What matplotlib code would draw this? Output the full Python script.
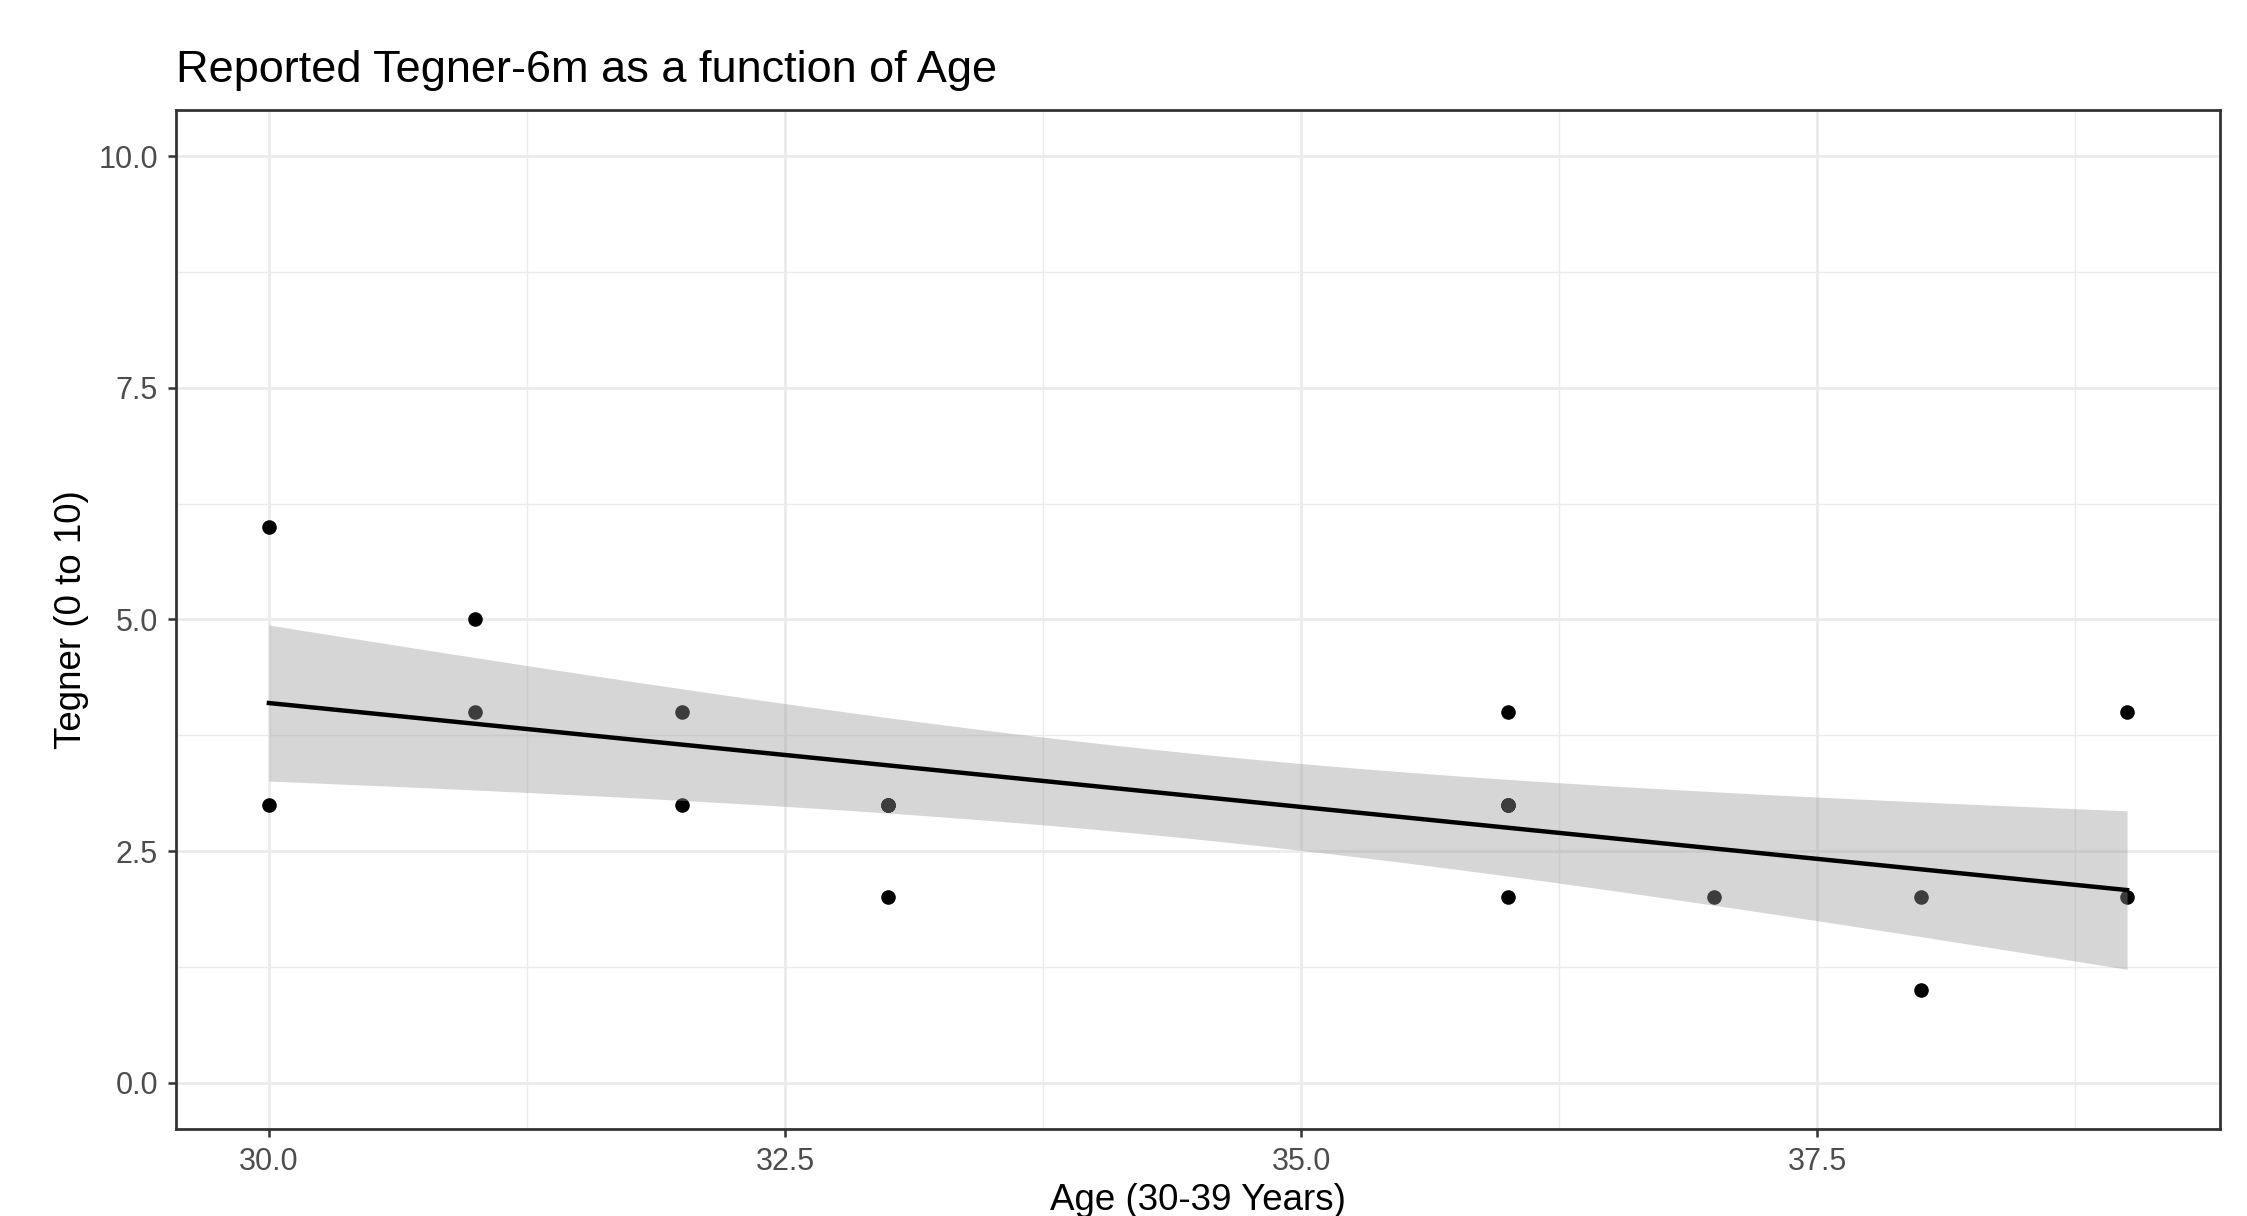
import numpy as np
import matplotlib
matplotlib.use("Agg")
import matplotlib.pyplot as plt
from matplotlib.ticker import MultipleLocator

plt.rcParams['font.family'] = ['Liberation Sans', 'DejaVu Sans']

# data (some points are stacked on top of each other)
age = [30, 30, 31, 31, 32, 32, 33, 33, 33, 33, 36, 36, 36, 36, 36, 37, 38, 38, 39, 39]
tegner = [6, 3, 5, 4, 4, 3, 3, 3, 3, 2, 4, 3, 3, 3, 2, 2, 2, 1, 4, 2]
title = "Reported Tegner-6m as a function of Age"
xlabel = "Age (30-39 Years)"
ylabel = "Tegner (0 to 10)"

x = np.array(age, dtype=float)
y = np.array(tegner, dtype=float)

# linear fit + 95% confidence band (like geom_smooth(method="lm"))
n = len(x)
slope, intercept = np.polyfit(x, y, 1)
resid = y - (slope * x + intercept)
s = np.sqrt(np.sum(resid ** 2) / (n - 2))
sxx = np.sum((x - x.mean()) ** 2)
t_crit = 2.101  # t(0.975, df=18)
xs = np.linspace(x.min(), x.max(), 80)
fit = slope * xs + intercept
se = s * np.sqrt(1.0 / n + (xs - x.mean()) ** 2 / sxx)

fig = plt.figure(figsize=(22.47, 12.16), dpi=100)
ax = fig.add_axes([176 / 2247, 1 - 1129 / 1216, (2220 - 176) / 2247, (1129 - 110) / 1216])

ax.scatter(x, y, s=110, color="black", zorder=2, linewidths=0)
ax.fill_between(xs, fit - t_crit * se, fit + t_crit * se, color="#999999", alpha=0.4,
                linewidth=0, zorder=3)
ax.plot(xs, fit, color="black", lw=3.2, zorder=4)

ax.set_xlim(29.55, 39.45)
ax.set_ylim(-0.5, 10.5)
ax.xaxis.set_major_locator(MultipleLocator(2.5))
ax.xaxis.set_minor_locator(MultipleLocator(1.25))
ax.yaxis.set_major_locator(MultipleLocator(2.5))
ax.yaxis.set_minor_locator(MultipleLocator(1.25))
ax.xaxis.set_major_formatter(lambda v, p: f"{v:.1f}")
ax.yaxis.set_major_formatter(lambda v, p: f"{v:.1f}")

ax.grid(True, which="major", color="#EBEBEB", lw=2.0, zorder=0)
ax.grid(True, which="minor", color="#EBEBEB", lw=1.0, zorder=0)
ax.set_axisbelow(True)

for sp in ax.spines.values():
    sp.set_color("#333333")
    sp.set_linewidth(2.0)

ax.tick_params(which="major", length=6, width=1.8, color="#333333", labelsize=22,
               labelcolor="#4D4D4D", pad=7)
ax.tick_params(which="minor", length=0)

ax.set_title(title, loc="left", fontsize=32.5, color="black", pad=20)
ax.set_xlabel(xlabel, fontsize=26.5, color="black", labelpad=4)
ax.set_ylabel(ylabel, fontsize=26.5, color="black", labelpad=7)

fig.savefig("out.png", dpi=100, facecolor="white")
